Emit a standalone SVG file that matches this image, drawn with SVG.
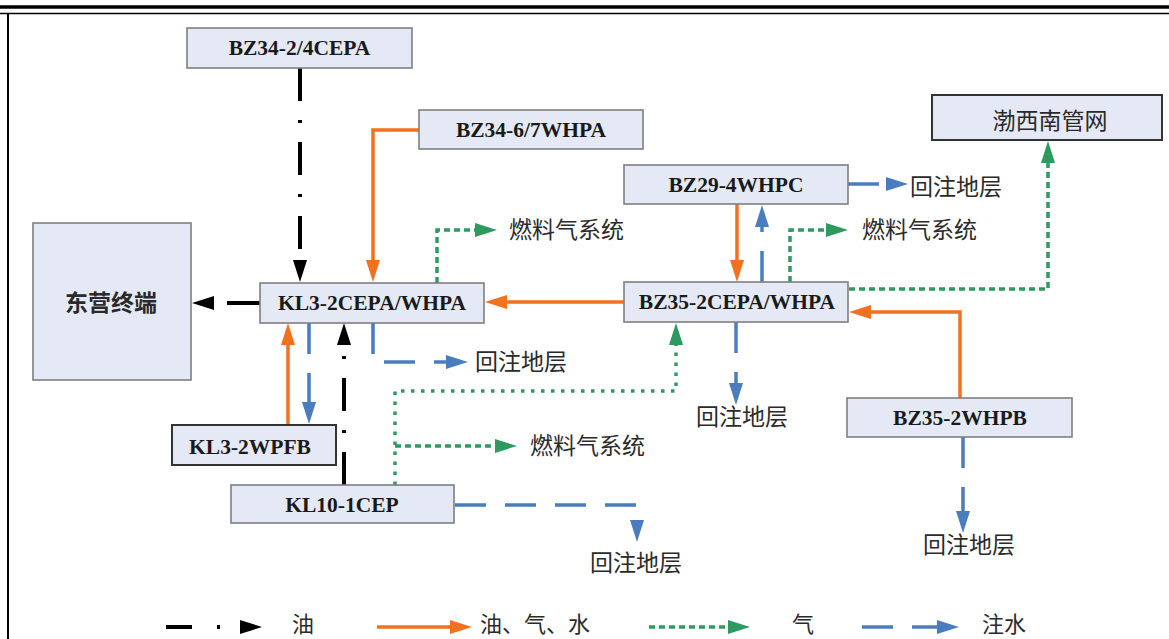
<svg xmlns="http://www.w3.org/2000/svg" width="1169" height="639" viewBox="0 0 1169 639">
<style>
.box{fill:#e4e9f5;stroke:#7f7f7f;stroke-width:1.6}
.boxd{fill:#e4e9f5;stroke:#333;stroke-width:2}
.lbl{font-family:"Liberation Serif","Times New Roman",serif;font-weight:bold;font-size:21.5px;fill:#1a1a1a;text-anchor:middle}
.cjk{font-family:"Noto Sans CJK SC","Noto Sans",sans-serif;font-size:23px;fill:#2a2a2a}
.leg{font-family:"Noto Sans CJK SC","Noto Sans",sans-serif;font-size:22px;fill:#2a2a2a}
.oil{fill:none;stroke:#000;stroke-width:4;stroke-dasharray:33 19 3 19}
.mix{fill:none;stroke:#f2711f;stroke-width:3.5}
.gas{fill:none;stroke:#2f9a60;stroke-width:3.5;stroke-dasharray:6 4}
.gasd{fill:none;stroke:#2f9a60;stroke-width:3.5;stroke-dasharray:3.5 6.5}
.wat{fill:none;stroke:#4a7dc0;stroke-width:3.5;stroke-dasharray:31 19}
</style>
<defs>
<marker id="aK" markerUnits="userSpaceOnUse" markerWidth="22" markerHeight="16" viewBox="0 0 22 16" refX="12" refY="8" orient="auto"><path d="M0,1 L22,8 L0,15 z" fill="#000"/></marker>
<marker id="aO" markerUnits="userSpaceOnUse" markerWidth="22" markerHeight="16" viewBox="0 0 22 16" refX="12" refY="8" orient="auto"><path d="M0,1 L22,8 L0,15 z" fill="#f2711f"/></marker>
<marker id="aG" markerUnits="userSpaceOnUse" markerWidth="22" markerHeight="16" viewBox="0 0 22 16" refX="12" refY="8" orient="auto"><path d="M0,1 L22,8 L0,15 z" fill="#2f9a60"/></marker>
<marker id="aB" markerUnits="userSpaceOnUse" markerWidth="22" markerHeight="16" viewBox="0 0 22 16" refX="12" refY="8" orient="auto"><path d="M0,1 L22,8 L0,15 z" fill="#4a7dc0"/></marker>
</defs>
<rect x="0" y="0" width="1169" height="639" fill="#fff"/>
<g id="frame">
<line x1="0" y1="7" x2="1169" y2="7" stroke="#000" stroke-width="3.5"/>
<line x1="0" y1="13.5" x2="1169" y2="13.5" stroke="#000" stroke-width="1.5"/>
<line x1="8" y1="13" x2="8" y2="639" stroke="#000" stroke-width="2"/>
</g>
<g id="connectors">
<path class="oil" d="M300,68 V272" marker-end="url(#aK)"/>
<path class="oil" d="M260,303 H202" marker-end="url(#aK)"/>
<path class="oil" d="M344,485 V333" marker-end="url(#aK)"/>
<path class="mix" d="M419,130 H373 V272" marker-end="url(#aO)"/>
<path class="mix" d="M624,302 H495" marker-end="url(#aO)"/>
<path class="mix" d="M737,204 V272" marker-end="url(#aO)"/>
<path class="mix" d="M960,398 V312 H859" marker-end="url(#aO)"/>
<path class="mix" d="M288,425 V333" stroke-width="3" marker-end="url(#aO)"/>
<path class="wat" d="M309,323 V414" marker-end="url(#aB)"/>
<path class="wat" d="M373,323 V362 H458" marker-end="url(#aB)"/>
<path class="wat" d="M762,282 V215" marker-end="url(#aB)"/>
<path class="wat" d="M848,184 H898" marker-end="url(#aB)"/>
<path class="wat" d="M736,322 V395" marker-end="url(#aB)"/>
<path class="wat" d="M963,437 V523" marker-end="url(#aB)"/>
<path class="wat" d="M455,505 H637 V532" marker-end="url(#aB)"/>
<path class="gas" d="M437,283 V230 H487" marker-end="url(#aG)"/>
<path class="gas" d="M790,282 V230 H838" marker-end="url(#aG)"/>
<path class="gas" d="M849,289 H1048 V151" marker-end="url(#aG)"/>
<path class="gasd" d="M395,485 V391 H676 V333" marker-end="url(#aG)"/>
<path class="gas" d="M395,446 H507" marker-end="url(#aG)"/>
</g>
<g id="n-bz34-24"><rect class="box" x="187" y="28" width="225" height="40"/><text class="lbl" x="299.5" y="55">BZ34-2/4CEPA</text></g>
<g id="n-bz34-67"><rect class="box" x="419" y="110" width="224" height="39"/><text class="lbl" x="531" y="137">BZ34-6/7WHPA</text></g>
<g id="n-dongying"><rect class="box" x="33" y="223" width="158" height="157"/><text class="cjk" x="111" y="311" font-size="25" font-weight="bold" text-anchor="middle">东营终端</text></g>
<g id="n-kl3-2"><rect class="box" x="260" y="283" width="224" height="40"/><text class="lbl" x="372" y="310">KL3-2CEPA/WHPA</text></g>
<g id="n-bz29"><rect class="box" x="624" y="165" width="224" height="39"/><text class="lbl" x="736" y="192">BZ29-4WHPC</text></g>
<g id="n-bz35-2"><rect class="box" x="624" y="282" width="224" height="40"/><text class="lbl" x="737" y="309">BZ35-2CEPA/WHPA</text></g>
<g id="n-boxinan"><rect class="boxd" x="932" y="95" width="230" height="45"/><text class="cjk" x="1050" y="129" font-size="26" text-anchor="middle">渤西南管网</text></g>
<g id="n-bz35-2whpb"><rect class="box" x="847" y="398" width="225" height="39"/><text class="lbl" x="960" y="425">BZ35-2WHPB</text></g>
<g id="n-kl3-2wpfb"><rect class="boxd" x="172" y="425" width="164" height="40"/><text class="lbl" x="250" y="454" font-size="24">KL3-2WPFB</text></g>
<g id="n-kl10"><rect class="box" x="231" y="485" width="223" height="38"/><text class="lbl" x="342" y="512">KL10-1CEP</text></g>
<g id="labels">
<text class="cjk" x="509" y="238">燃料气系统</text>
<text class="cjk" x="862" y="238">燃料气系统</text>
<text class="cjk" x="530" y="454">燃料气系统</text>
<text class="cjk" x="475" y="370">回注地层</text>
<text class="cjk" x="910" y="195">回注地层</text>
<text class="cjk" x="742" y="425" text-anchor="middle">回注地层</text>
<text class="cjk" x="969" y="553" text-anchor="middle">回注地层</text>
<text class="cjk" x="636" y="571" text-anchor="middle">回注地层</text>
</g>
<g id="legend">
<path d="M166,627 H252" fill="none" stroke="#000" stroke-width="4" stroke-dasharray="26 25 3 40" marker-end="url(#aK)"/>
<text class="leg" x="292" y="632">油</text>
<path class="mix" d="M377,627 H462" marker-end="url(#aO)"/>
<text class="leg" x="480" y="632">油、气、水</text>
<path class="gas" d="M649,627 H740" stroke-dasharray="4 4" marker-end="url(#aG)"/>
<text class="leg" x="792" y="632">气</text>
<path class="wat" d="M862,627 H949" stroke-dasharray="30 21" marker-end="url(#aB)"/>
<text class="leg" x="982" y="632">注水</text>
</g>
</svg>
